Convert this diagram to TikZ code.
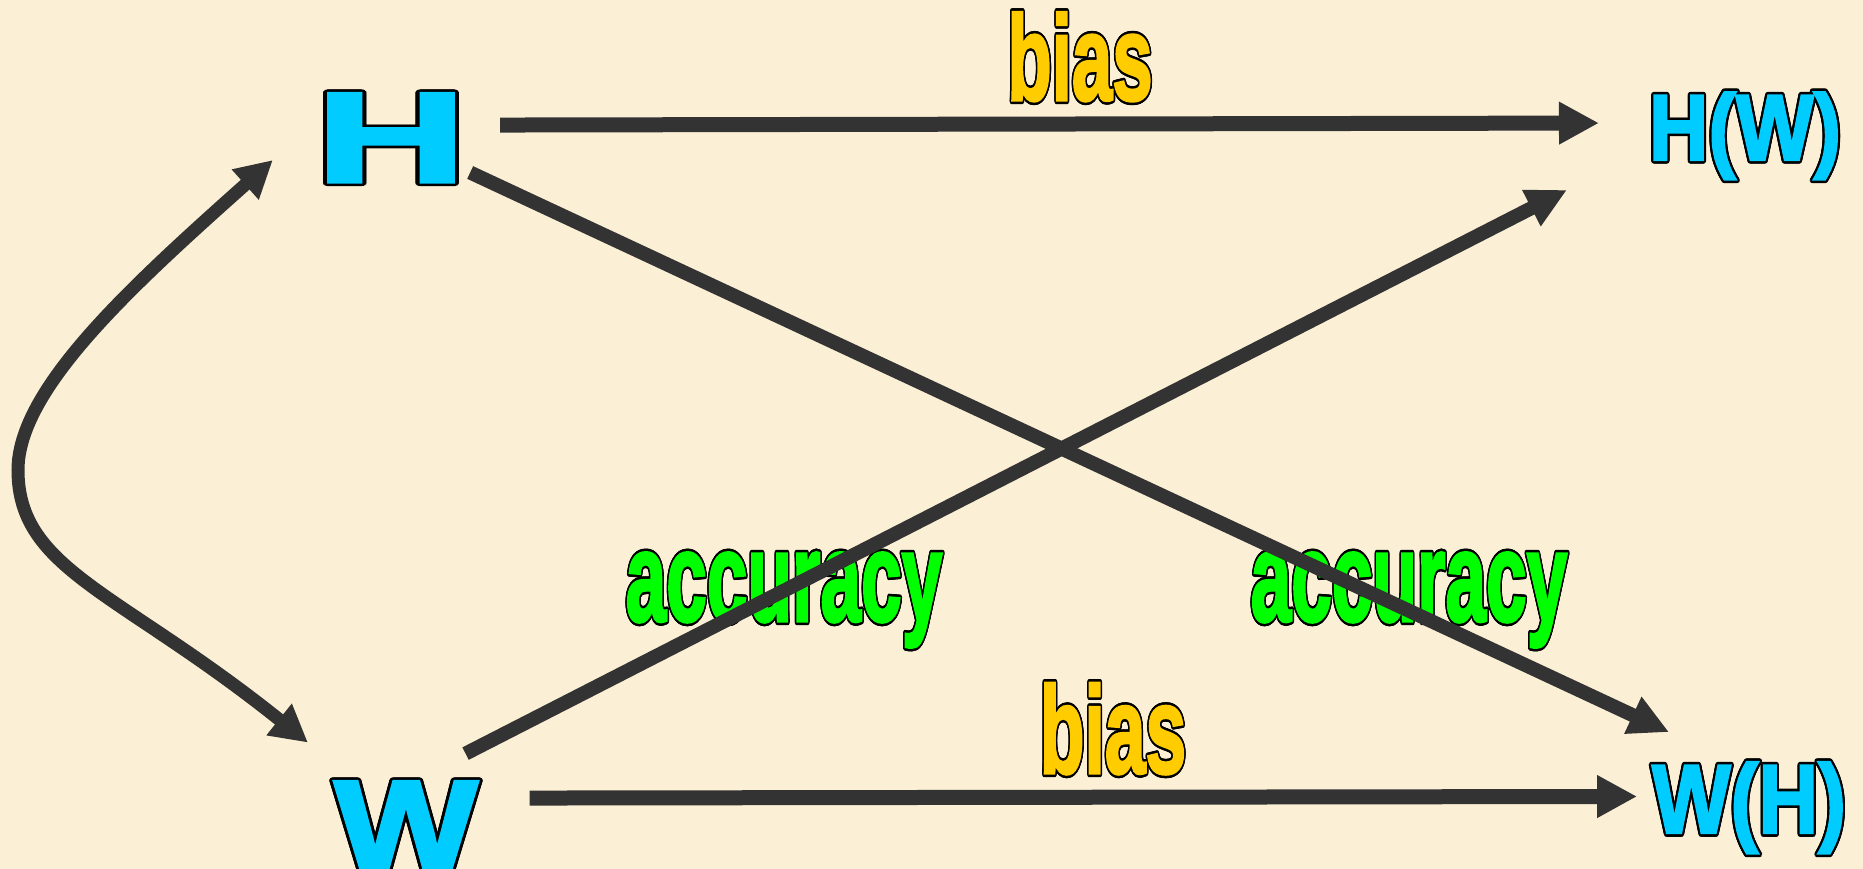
\documentclass[tikz,border=0pt]{standalone}
\usepackage{fontspec}
\setmainfont{Liberation Sans}[BoldFeatures={FakeBold=2.5}]
\usepackage{contour}
\contourlength{2.5pt}
\usetikzlibrary{arrows.meta}
\definecolor{bgc}{RGB}{251,240,214}
\definecolor{arrc}{RGB}{51,51,51}
\definecolor{cyc}{RGB}{0,204,255}
\definecolor{goldc}{RGB}{255,204,0}
\definecolor{grnc}{RGB}{0,255,0}
\newcommand{\otext}[4]{\scalebox{#2}[1]{\fontsize{#1}{#1}\selectfont\bfseries{\color{#3}\contour{black}{#4}}}}
\begin{document}
\begin{tikzpicture}[x=1pt,y=-1pt,
  lbl/.style={inner sep=0pt, outer sep=0pt, anchor=base},
  conn/.style={draw=arrc, line width=15pt, -{Triangle[length=40pt,width=40pt]}},
  diag/.style={draw=arrc, line width=14pt, -{Triangle[length=40pt,width=38pt]}},
  curv/.style={draw=arrc, line width=13pt, {Triangle[length=37pt,width=38pt]}-{Triangle[length=37pt,width=38pt]}}]
\fill[bgc] (0,0) rectangle (1863,869);
\useasboundingbox (0,0) rectangle (1863,869);
% nodes
\node[lbl] (H)  at (391,182) {\otext{128.5}{1.62}{cyc}{H}};
\node[lbl] (W)  at (406,870) {\otext{128.5}{1.18}{cyc}{W}};
\node[lbl] (HW) at (1745,160) {\otext{93.6}{0.88}{cyc}{H(W)}};
\node[lbl] (WH) at (1749,833) {\otext{97.8}{0.85}{cyc}{W(H)}};
\node[lbl] (b1) at (1080,100) {\otext{121}{0.6}{goldc}{bias}};
\node[lbl] (b2) at (1113,773) {\otext{124}{0.59}{goldc}{bias}};
\node[lbl] (a1) at (784,621) {\otext{127}{0.575}{grnc}{accuracy}};
\node[lbl] (a2) at (1409,621) {\otext{127}{0.575}{grnc}{accuracy}};
% connectors
\draw[conn] ([shift={(34,-14)}]H.east) -- ([shift={(-50,-14)}]HW.west);
\draw[conn] ([shift={(52,-29)}]W.east) -- ([shift={(-15,-12.5)}]WH.west);
\draw[diag] ([shift={(4,-12)}]H.south east) -- ([shift={(17,-30)}]WH.north west);
\draw[diag] ([shift={(-12,-28)}]W.north east) -- ([shift={(-82,8)}]HW.south west);
\draw[curv] ([shift={(-43,21)}]H.west) .. controls (128,289) and (18,390) .. (18,470)
  .. controls (18,570) and (119,591) .. ([shift={(-26.5,-39)}]W.north west);
\end{tikzpicture}
\end{document}
